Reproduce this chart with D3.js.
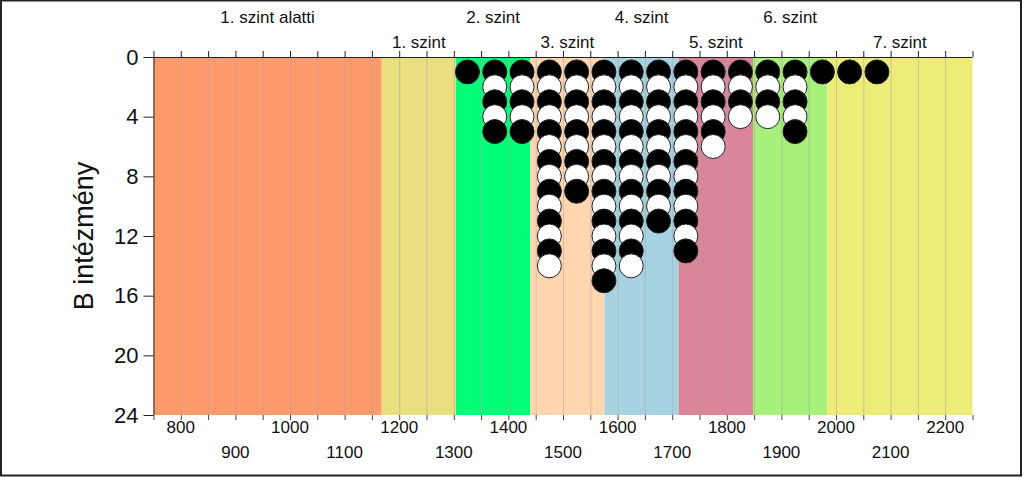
<!DOCTYPE html>
<html><head><meta charset="utf-8">
<script src="https://cdn.jsdelivr.net/npm/d3@7"></script>
<style>
html,body{margin:0;padding:0;background:#fff;}
svg{display:block;font-family:"Liberation Sans",Arial,sans-serif;}
</style></head>
<body>
<svg id="c" width="1024" height="478"></svg>
<script>
// Bands (levels)
const bandNames = ["1. szint alatti","1. szint","2. szint","3. szint","4. szint","5. szint","6. szint","7. szint"];
const bandStarts = [750, 1168, 1304, 1440, 1576, 1712, 1848, 1984];
const bandEnds   = [1168, 1304, 1440, 1576, 1712, 1848, 1984, 2250];
const bandColors = ["#FF9A6C","#E9DF80","#00FF77","#FFD6B0","#A6D2E2","#DA8499","#A7F07A","#EEEC78"];
// Dot columns: bin centre and number of stacked dots
const colX     = [1325,1375,1425,1475,1525,1575,1625,1675,1725,1775,1825,1875,1925,1975,2025,2075];
const colCount = [1,   5,   5,   14,  9,   15,  14,  11,  13,  6,   4,   4,   5,   1,   1,   1];
// Axis ticks
const xTicks = [800,900,1000,1100,1200,1300,1400,1500,1600,1700,1800,1900,2000,2100,2200];
const yTicks = [0,4,8,12,16,20,24];

const svg = d3.select("#c");
const L = 153.5, R = 972.5, T = 57, B = 415;
const x = d3.scaleLinear().domain([750,2250]).range([L,R]);
const y = d3.scaleLinear().domain([0,24]).range([T,B]);

// outer frame
svg.append("rect").attr("x",1).attr("y",0.5).attr("width",1020).attr("height",475)
  .attr("fill","none").attr("stroke","#222").attr("stroke-width",2);

// bands
svg.append("g").selectAll("rect").data(bandNames).join("rect")
  .attr("x",(d,i)=>x(bandStarts[i])).attr("y",T)
  .attr("width",(d,i)=>x(bandEnds[i])-x(bandStarts[i])).attr("height",B-T)
  .attr("fill",(d,i)=>bandColors[i]);

// grid lines every 50
const grid = d3.range(800,2250,50);
svg.append("g").selectAll("line").data(grid).join("line")
  .attr("x1",d=>x(d)+0.5).attr("x2",d=>x(d)+0.5).attr("y1",T).attr("y2",B)
  .attr("stroke","#a8a8a8").attr("stroke-opacity",0.55).attr("stroke-width",1);

// band labels
svg.append("g").selectAll("text").data(bandNames).join("text")
  .attr("x",(d,i)=>(x(bandStarts[i])+x(bandEnds[i]))/2)
  .attr("y",(d,i)=>i%2===0?23:48)
  .attr("text-anchor","middle").attr("font-size",17).attr("fill","#111")
  .text(d=>d);

// dots
const dots = [];
colX.forEach((cx,i)=>{ for(let k=1;k<=colCount[i];k++) dots.push({x:cx,y:k}); });
svg.append("g").selectAll("circle").data(dots).join("circle")
  .attr("cx",d=>x(d.x)).attr("cy",d=>y(d.y)).attr("r",12)
  .attr("fill",d=>d.y%2===1?"#000":"#fff")
  .attr("stroke","#222").attr("stroke-width",1);

// axes
const minorTicks = d3.range(750,2251,50);
const gTop = svg.append("g").attr("transform",`translate(0,${T})`)
  .call(d3.axisTop(x).tickValues(minorTicks).tickSize(6).tickFormat(""));
gTop.select(".domain").attr("d",`M${L},0.5H${R}`).attr("stroke","#222");
gTop.selectAll(".tick line").attr("stroke","#222");

const gBot = svg.append("g").attr("transform",`translate(0,${B})`)
  .call(d3.axisBottom(x).tickValues(minorTicks).tickSize(5).tickFormat(""));
gBot.select(".domain").remove();
gBot.selectAll(".tick line").attr("stroke","#444");

svg.append("g").selectAll("text").data(xTicks).join("text")
  .attr("x",d=>x(d)).attr("y",(d,i)=>i%2===0?433:458)
  .attr("text-anchor","middle").attr("font-size",17).attr("fill","#111")
  .text(d=>d);

const gLeft = svg.append("g").attr("transform",`translate(${L},0)`)
  .call(d3.axisLeft(y).tickValues(yTicks).tickSize(10).tickPadding(5));
gLeft.select(".domain").attr("d",`M0.5,${T}V${B}`).attr("stroke","#222");
gLeft.selectAll(".tick line").attr("stroke","#222");
gLeft.selectAll(".tick text").attr("font-size",22).attr("fill","#111")
  .attr("font-family","Liberation Sans, Arial, sans-serif");

svg.append("text").attr("transform",`translate(93,236) rotate(-90)`)
  .attr("text-anchor","middle").attr("font-size",27).attr("fill","#111")
  .text("B intézmény");
</script>
</body></html>
